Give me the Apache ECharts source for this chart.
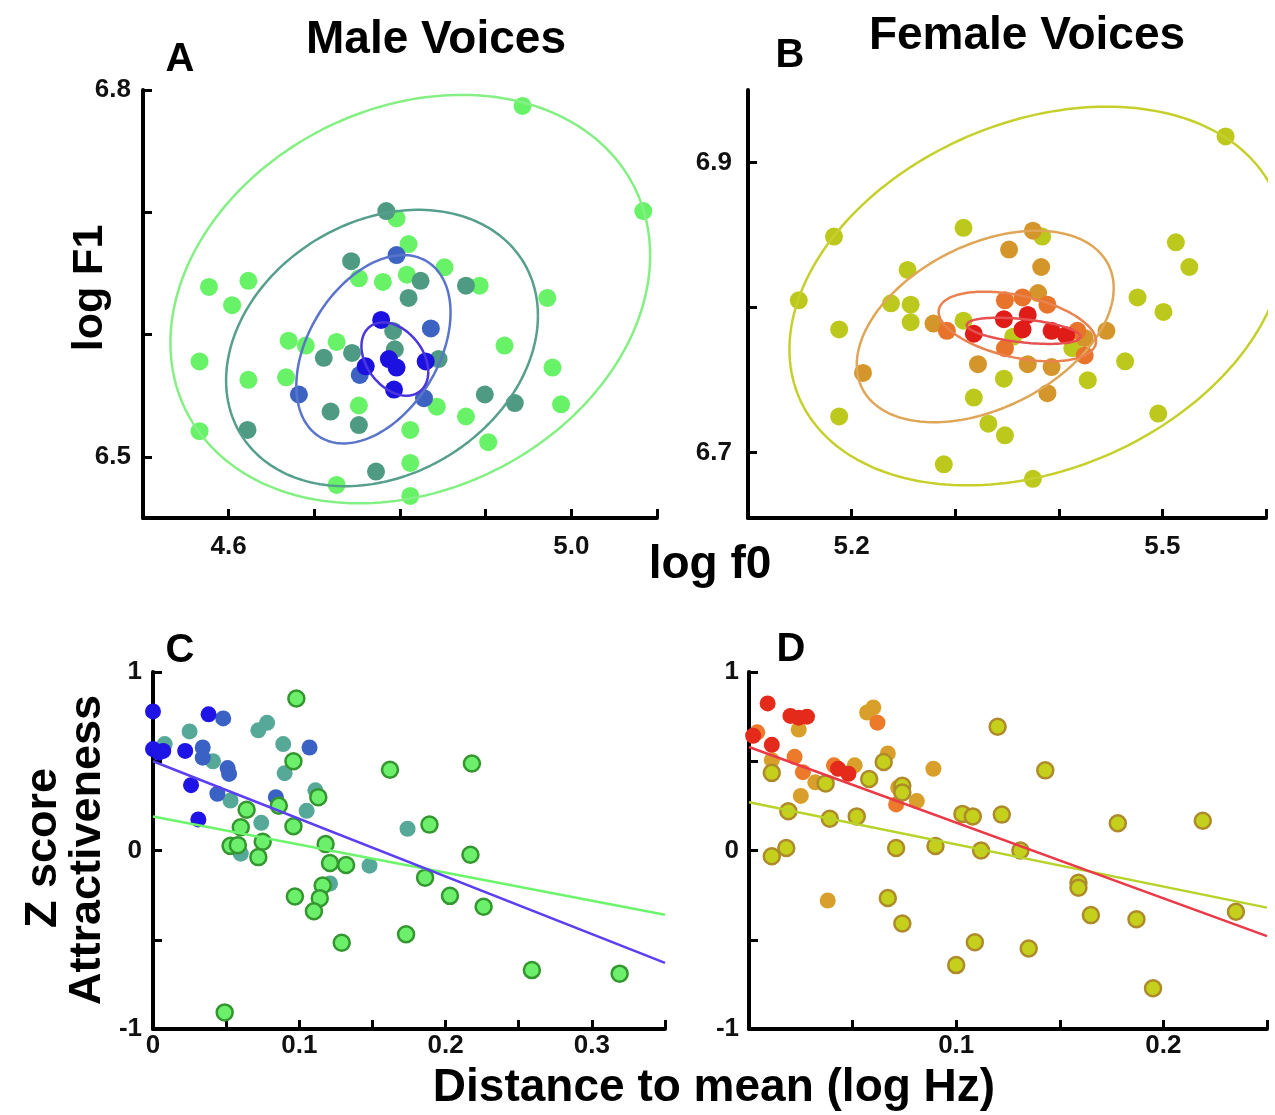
<!DOCTYPE html>
<html>
<head>
<meta charset="utf-8">
<script src="https://cdn.jsdelivr.net/npm/echarts@6/dist/echarts.min.js"></script>
<style>
  html, body { margin: 0; padding: 0; background: #fff; }
  #chart { width: 1275px; height: 1115px; }
</style>
</head>
<body>
<div id="chart"></div>
<script>
// panel A: male voices, [log f0, log F1], grouped from far (light green) to near (blue)
const maleFar = [
  [4.943, 6.787], [5.084, 6.701], [4.796, 6.695], [4.810, 6.674], [4.852, 6.655],
  [4.752, 6.646], [4.780, 6.643], [4.808, 6.649], [4.893, 6.640], [4.577, 6.639],
  [4.623, 6.644], [4.604, 6.624], [4.972, 6.630], [4.670, 6.595], [4.690, 6.591],
  [4.726, 6.594], [4.922, 6.591], [4.566, 6.578], [4.623, 6.563], [4.667, 6.565],
  [4.978, 6.573], [4.988, 6.543], [4.843, 6.541], [4.877, 6.533], [4.752, 6.542],
  [4.566, 6.521], [4.812, 6.522], [4.903, 6.512], [4.812, 6.495], [4.726, 6.477],
  [4.812, 6.468]
]
const maleMidFar = [
  [4.784, 6.701], [4.743, 6.660], [4.824, 6.644], [4.877, 6.640], [4.810, 6.630],
  [4.792, 6.603], [4.794, 6.588], [4.744, 6.585], [4.711, 6.581], [4.845, 6.580],
  [4.899, 6.551], [4.934, 6.544], [4.719, 6.537], [4.752, 6.526], [4.622, 6.522],
  [4.772, 6.488]
]
const maleMidNear = [
  [4.796, 6.665], [4.836, 6.605], [4.753, 6.567], [4.682, 6.551], [4.828, 6.548]
]
const maleNear = [
  [4.778, 6.612], [4.760, 6.574], [4.787, 6.580], [4.796, 6.573], [4.830, 6.578],
  [4.793, 6.555]
]

// panel B: female voices
const femaleFar = [
  [5.561, 6.918], [5.183, 6.849], [5.308, 6.855], [5.384, 6.849], [5.513, 6.845],
  [5.526, 6.828], [5.254, 6.826], [5.149, 6.805], [5.238, 6.803], [5.257, 6.802],
  [5.257, 6.790], [5.188, 6.785], [5.308, 6.791], [5.476, 6.807], [5.501, 6.797],
  [5.464, 6.763], [5.347, 6.751], [5.428, 6.750], [5.318, 6.738], [5.188, 6.725],
  [5.496, 6.727], [5.332, 6.720], [5.348, 6.712], [5.289, 6.692], [5.375, 6.682],
  [5.413, 6.772], [5.356, 6.780]
]
const femaleMidFar = [
  [5.375, 6.853], [5.352, 6.840], [5.383, 6.828], [5.279, 6.789], [5.211, 6.755],
  [5.322, 6.761], [5.370, 6.761], [5.393, 6.759], [5.389, 6.741], [5.446, 6.784],
  [5.425, 6.779], [5.380, 6.810]
]
const femaleMidNear = [
  [5.348, 6.805], [5.365, 6.807], [5.389, 6.802], [5.292, 6.784], [5.348, 6.772],
  [5.425, 6.767], [5.418, 6.784]
]
const femaleNear = [
  [5.347, 6.792], [5.370, 6.795], [5.365, 6.785], [5.318, 6.782], [5.393, 6.784],
  [5.407, 6.781]
]

// ellipses: [centre x, centre y, half width, half height, phase]
const maleEllipses = [
  [4.812, 6.629, 0.280, 0.167, 1.355],
  [4.779, 6.589, 0.182, 0.113, 1.334],
  [4.769, 6.588, 0.090, 0.077, 1.172],
  [4.794, 6.580, 0.039, 0.030, 1.928]
]
const femaleEllipses = [
  [5.379, 6.808, 0.239, 0.1305, 1.285],
  [5.329, 6.787, 0.124, 0.066, 1.159],
  [5.360, 6.787, 0.076, 0.024, 2.004],
  [5.366, 6.784, 0.055, 0.009, 2.037]
]

// panel C: distance to mean vs attractiveness, male
const maleDistNear = [
  [0.000, 0.779], [0.000, 0.568], [0.007, 0.558], [0.022, 0.558], [0.038, 0.763],
  [0.026, 0.366], [0.031, 0.174], [0.004, 0.548]
]
const maleDistMidNear = [
  [0.048, 0.740], [0.034, 0.577], [0.034, 0.520], [0.051, 0.462], [0.052, 0.429],
  [0.044, 0.318], [0.107, 0.577], [0.084, 0.299]
]
const maleDistMidFar = [
  [0.025, 0.667], [0.008, 0.596], [0.041, 0.500], [0.072, 0.673], [0.078, 0.715],
  [0.089, 0.596], [0.090, 0.433], [0.053, 0.280], [0.074, 0.155], [0.111, 0.337],
  [0.105, 0.222], [0.060, -0.018], [0.148, -0.085], [0.174, 0.122], [0.121, -0.185]
]
const maleDistFar = [
  [0.098, 0.852], [0.096, 0.500], [0.162, 0.452], [0.218, 0.487], [0.113, 0.299],
  [0.086, 0.251], [0.064, 0.228], [0.060, 0.130], [0.096, 0.136], [0.189, 0.145],
  [0.075, 0.049], [0.053, 0.026], [0.058, 0.030], [0.118, 0.036], [0.072, -0.037],
  [0.217, -0.024], [0.121, -0.070], [0.132, -0.081], [0.186, -0.152], [0.116, -0.196],
  [0.203, -0.254], [0.097, -0.258], [0.114, -0.267], [0.226, -0.315], [0.110, -0.340],
  [0.173, -0.469], [0.129, -0.517], [0.259, -0.670], [0.319, -0.690], [0.049, -0.907]
]
const maleFitNear = [[0, 0.50], [0.35, -0.63]]
const maleFitAll = [[0, 0.19], [0.35, -0.36]]

// panel D: female
const femaleDistNear = [
  [0.009, 0.824], [0.020, 0.754], [0.028, 0.750], [0.002, 0.643], [0.011, 0.592],
  [0.043, 0.458], [0.048, 0.430], [0.024, 0.744]
]
const femaleDistMidNear = [
  [0.004, 0.662], [0.062, 0.716], [0.022, 0.525], [0.026, 0.439], [0.071, 0.258],
  [0.041, 0.477]
]
const femaleDistMidFar = [
  [0.057, 0.773], [0.060, 0.801], [0.024, 0.678], [0.011, 0.506], [0.025, 0.306],
  [0.067, 0.544], [0.051, 0.477], [0.081, 0.277], [0.089, 0.458], [0.038, -0.280],
  [0.072, 0.353], [0.032, 0.382]
]
const femaleDistFar = [
  [0.120, 0.693], [0.011, 0.435], [0.065, 0.496], [0.058, 0.401], [0.037, 0.376],
  [0.143, 0.449], [0.074, 0.363], [0.074, 0.325], [0.019, 0.220], [0.039, 0.178],
  [0.052, 0.191], [0.103, 0.205], [0.108, 0.191], [0.122, 0.201], [0.178, 0.153],
  [0.219, 0.167], [0.011, -0.032], [0.018, 0.014], [0.071, 0.014], [0.090, 0.025],
  [0.112, 0.000], [0.131, 0.000], [0.159, -0.181], [0.159, -0.209], [0.067, -0.266],
  [0.165, -0.362], [0.187, -0.385], [0.235, -0.343], [0.074, -0.409], [0.109, -0.514],
  [0.135, -0.549], [0.100, -0.642], [0.195, -0.772]
]
const femaleFitNear = [[0, 0.58], [0.25, -0.48]]
const femaleFitAll = [[0, 0.27], [0.25, -0.32]]

const FONT = 'Liberation Sans, Arial, sans-serif'

function ellipsePoints(p) {
  const [cx, cy, ax, ay, ph] = p
  const pts = []
  for (let i = 0; i <= 200; i++) {
    const t = (i / 200) * Math.PI * 2
    pts.push([cx + ax * Math.cos(t), cy + ay * Math.cos(t - ph)])
  }
  return pts
}

// both axes share the same look: thick black line, inward ticks, few labels
function axis(idx, min, max, ticks, labels, fmt, margin) {
  return {
    type: 'value', gridIndex: idx, min: min, max: max,
    splitLine: { show: false },
    axisLine: { onZero: false, lineStyle: { color: '#000', width: 4 } },
    axisTick: { inside: true, length: 9, customValues: ticks, lineStyle: { color: '#000', width: 3 } },
    axisLabel: { customValues: labels, formatter: fmt, margin: margin, color: '#111',
      fontFamily: FONT, fontSize: 26, fontWeight: 'bold' }
  }
}

function dots(idx, data, color, size, border) {
  return {
    type: 'scatter', xAxisIndex: idx, yAxisIndex: idx, data: data,
    symbolSize: size, silent: true,
    itemStyle: border
      ? { color: color, borderColor: border, borderWidth: 2.5, opacity: 1 }
      : { color: color, opacity: 1 }
  }
}
function curve(idx, data, color, width) {
  return {
    type: 'line', xAxisIndex: idx, yAxisIndex: idx, data: data,
    showSymbol: false, silent: true, clip: true,
    lineStyle: { color: color, width: width }
  }
}

const chart = echarts.init(document.getElementById('chart'))

const one = v => v.toFixed(1)
const zeroOne = v => (v === 0 ? '0' : v.toFixed(1))
const whole = v => String(Math.round(v))

const maleEllColors = ['#84f084', '#559f8c', '#5a74cc', '#4a36dc']
const femaleEllColors = ['#c6d02c', '#dea656', '#e9824e', '#e65050']

const series = []
maleEllipses.forEach((p, i) => series.push(curve(0, ellipsePoints(p), maleEllColors[i], 2.5)))
series.push(dots(0, maleFar, '#68f268', 18))
series.push(dots(0, maleMidFar, '#4e9a82', 18))
series.push(dots(0, maleMidNear, '#3c62c2', 18))
series.push(dots(0, maleNear, '#1c12e0', 18))

femaleEllipses.forEach((p, i) => series.push(curve(1, ellipsePoints(p), femaleEllColors[i], 2.5)))
series.push(dots(1, femaleFar, '#bcc81c', 18))
series.push(dots(1, femaleMidFar, '#d4962a', 18))
series.push(dots(1, femaleMidNear, '#e8732a', 18))
series.push(dots(1, femaleNear, '#e01c18', 18))

series.push(dots(2, maleDistMidFar, '#56a898', 16))
series.push(dots(2, maleDistMidNear, '#3a62c4', 16))
series.push(dots(2, maleDistNear, '#1e14e6', 16))
series.push(dots(2, maleDistFar, '#6cf06c', 16, '#33962f'))
series.push(curve(2, maleFitAll, '#6cf56c', 2.5))
series.push(curve(2, maleFitNear, '#5a40f0', 2.5))

series.push(dots(3, femaleDistMidFar, '#d8a02a', 16))
series.push(dots(3, femaleDistMidNear, '#ec7a2a', 16))
series.push(dots(3, femaleDistNear, '#e42a1a', 16))
series.push(dots(3, femaleDistFar, '#c4d01c', 16, '#ae8a2a'))
series.push(curve(3, femaleFitAll, '#b8d22a', 2.5))
series.push(curve(3, femaleFitNear, '#ea3a48', 2.5))

const txt = (x, y, text, size, weight, rot) => ({
  type: 'text', x: x, y: y, rotation: rot || 0, silent: true,
  style: { text: text, font: (weight || 'bold') + ' ' + size + 'px ' + FONT,
    fill: '#000', align: 'center', verticalAlign: 'middle' }
})

chart.setOption({
  animation: false,
  grid: [
    { left: 143, top: 90, width: 514, height: 428 },
    { left: 748, top: 90, width: 518, height: 428 },
    { left: 153, top: 672, width: 512, height: 357 },
    { left: 749, top: 672, width: 518, height: 357 }
  ],
  xAxis: [
    axis(0, 4.5, 5.1, [4.6, 4.7, 4.8, 4.9, 5.0, 5.1], [4.6, 5.0], one, 16),
    axis(1, 5.1, 5.6, [5.2, 5.3, 5.4, 5.5, 5.6], [5.2, 5.5], one, 16),
    axis(2, 0, 0.35, [0.05, 0.1, 0.15, 0.2, 0.25, 0.3, 0.35], [0, 0.1, 0.2, 0.3], zeroOne, 4),
    axis(3, 0, 0.25, [0.05, 0.1, 0.15, 0.2, 0.25], [0.1, 0.2], one, 4)
  ],
  yAxis: [
    axis(0, 6.45, 6.8, [6.5, 6.6, 6.7, 6.8], [6.5, 6.8], one, 12),
    axis(1, 6.655, 6.95, [6.7, 6.8, 6.9], [6.7, 6.9], one, 16),
    axis(2, -1, 1, [-0.5, 0, 0.5, 1], [-1, 0, 1], whole, 11),
    axis(3, -1, 1, [-0.5, 0, 0.5, 1], [-1, 0, 1], whole, 10)
  ],
  series: series,
  graphic: [
    txt(436, 40, 'Male Voices', 46),
    txt(1027, 36, 'Female Voices', 46),
    txt(180, 60, 'A', 40),
    txt(790, 56, 'B', 40),
    txt(180, 651, 'C', 40),
    txt(791, 650, 'D', 40),
    txt(90, 288, 'log F1', 43, 'bold', Math.PI / 2),
    txt(710, 565, 'log f0', 46),
    txt(44, 848, 'Z score', 45, 'bold', Math.PI / 2),
    txt(88, 850, 'Attractiveness', 45, 'bold', Math.PI / 2),
    txt(714, 1088, 'Distance to mean (log Hz)', 46)
  ]
})
</script>
</body>
</html>
